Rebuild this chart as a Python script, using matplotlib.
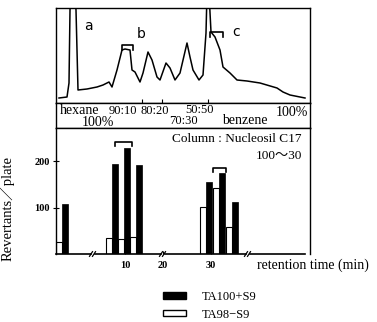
import matplotlib.pyplot as plt
from matplotlib.patches import Patch

plt.rcParams['font.family'] = ['Liberation Serif', 'Noto Sans CJK JP']

# chromatogram trace (position along run, detector response)
trace_x = [3, 11, 13, 14, 15, 19, 20, 22, 31, 41, 47, 53, 56, 61, 66, 69, 74, 76,
           79, 84, 87, 92, 96, 101, 104, 110, 114, 119, 124, 131, 134, 137, 143,
           147, 150, 151, 153, 155, 159, 164, 167, 174, 181, 191, 204, 221, 227,
           234, 249]
trace_y = [5, 6, 20, 93, 110, 110, 93, 13, 14, 16, 18, 21, 16, 33, 53, 54, 53, 33,
           31, 21, 30, 51, 43, 26, 23, 40, 35, 23, 30, 60, 46, 33, 23,
           28, 70, 110, 110, 71, 66, 53, 36, 30, 23, 22, 20, 15, 11,
           8, 5]

# solvent gradient labels
solvents = ['hexane', '100%', '90:10', '80:20', '70:30', '50:50', 'benzene', '100%']
solvent_x = [24, 42, 67, 99, 127, 144, 189, 236]
solvent_y = [17, 6, 17, 17, 7, 18, 8, 16]
solvent_size = [10, 10, 9, 9, 9, 9, 10, 10]
step_x = [86, 106, 152]

# mutagenicity of fractions
frac_pos = [0, 50, 62, 74, 144, 157, 170]
ta98 = [26, 35, 32, 36, 101, 142, 57]
ta100 = [107, 193, 229, 192, 155, 175, 112]
breaks = [37, 107, 192]
tick_pos = [69, 107, 155]
tick_labels = ['10', '20', '30']

fig = plt.figure(figsize=(3.77, 3.22), dpi=100)
ax1 = fig.add_axes([56 / 377, 1 - 103 / 322, 254 / 377, 95 / 322])
ax2 = fig.add_axes([56 / 377, 1 - 128 / 322, 254 / 377, 25 / 322])
ax3 = fig.add_axes([56 / 377, 1 - 254 / 322, 254 / 377, 126 / 322])

# chromatogram
ax1.plot(trace_x, trace_y, color='black', lw=1.1)
ax1.set_xlim(0, 254)
ax1.set_ylim(0, 95)
ax1.set_yticks([])
ax1.set_xticks(step_x)
ax1.tick_params(axis='x', direction='in', length=3, labelbottom=False)
ax1.text(32, 77, 'a', family='DejaVu Sans', fontsize=10, ha='center', va='center')
ax1.text(85, 69, 'b', family='DejaVu Sans', fontsize=10, ha='center', va='center')
ax1.text(180, 71, 'c', family='DejaVu Sans', fontsize=10, ha='center', va='center')
ax1.plot([66, 66, 77, 77], [53, 58, 58, 53], color='black', lw=1.2)
ax1.plot([154, 154, 167, 167], [66, 71, 71, 66], color='black', lw=1.2)

# solvent box
ax2.set_xlim(0, 254)
ax2.set_ylim(0, 25)
ax2.set_xticks([])
ax2.set_yticks([])
for s, x, y, fs in zip(solvents, solvent_x, solvent_y, solvent_size):
    ax2.text(x, y, s, fontsize=fs, ha='center', va='center')

# bars
w = 6.2
ax3.bar(frac_pos, ta98, width=w, align='edge', color='white', edgecolor='black', lw=0.8)
ax3.bar([p + w for p in frac_pos], ta100, width=w, align='edge', color='black',
        edgecolor='black', lw=0.5)
ax3.set_xlim(0, 254)
ax3.set_ylim(0, 271)
ax3.spines['bottom'].set_visible(False)
ax3.set_yticks([100, 200])
ax3.set_yticklabels(['100', '200'], fontsize=7.5, fontweight='bold')
ax3.tick_params(axis='y', direction='inout', length=5, pad=2)
ax3.set_xticks(tick_pos)
ax3.set_xticklabels(tick_labels, fontsize=7.5, fontweight='bold')
ax3.tick_params(axis='x', direction='in', length=2, pad=5)

# broken baseline
seg = [0] + [v for b in breaks for v in (b - 2, b + 2)] + [249]
for i in range(0, len(seg), 2):
    ax3.plot([seg[i], seg[i + 1]], [0, 0], color='black', lw=1.2, clip_on=False)
for b in breaks:
    for dx in (-2, 1):
        ax3.plot([b + dx - 1.5, b + dx + 1.5], [-5, 5], color='black', lw=0.9, clip_on=False)

ax3.plot([59, 59, 76, 76], [232, 241, 241, 232], color='black', lw=1.2)
ax3.plot([157, 157, 170, 170], [176, 185, 185, 176], color='black', lw=1.2)

ax3.text(246, 247, 'Column : Nucleosil C17', fontsize=9.5, ha='right', va='center')
ax3.text(246, 210, '100～30', fontsize=9.5, ha='right', va='center')
ax3.set_ylabel('Revertants／plate', fontsize=10.5)
ax3.yaxis.set_label_coords(-0.161, 0.365)
fig.text(313 / 377, 1 - 265 / 322, 'retention time (min)', fontsize=10,
         ha='center', va='center')

for ax in (ax1, ax2, ax3):
    for sp in ax.spines.values():
        sp.set_linewidth(1.0)

handles = [Patch(facecolor='black', edgecolor='black'),
           Patch(facecolor='white', edgecolor='black')]
fig.legend(handles, ['TA100+S9', 'TA98−S9'], loc='upper left',
           bbox_to_anchor=(163 / 377, 1 - 291 / 322), frameon=False,
           borderpad=0, borderaxespad=0,
           fontsize=9, handlelength=1.84, handleheight=0.4, labelspacing=0.45,
           handletextpad=1.3)

fig.savefig('out.png', dpi=100)
